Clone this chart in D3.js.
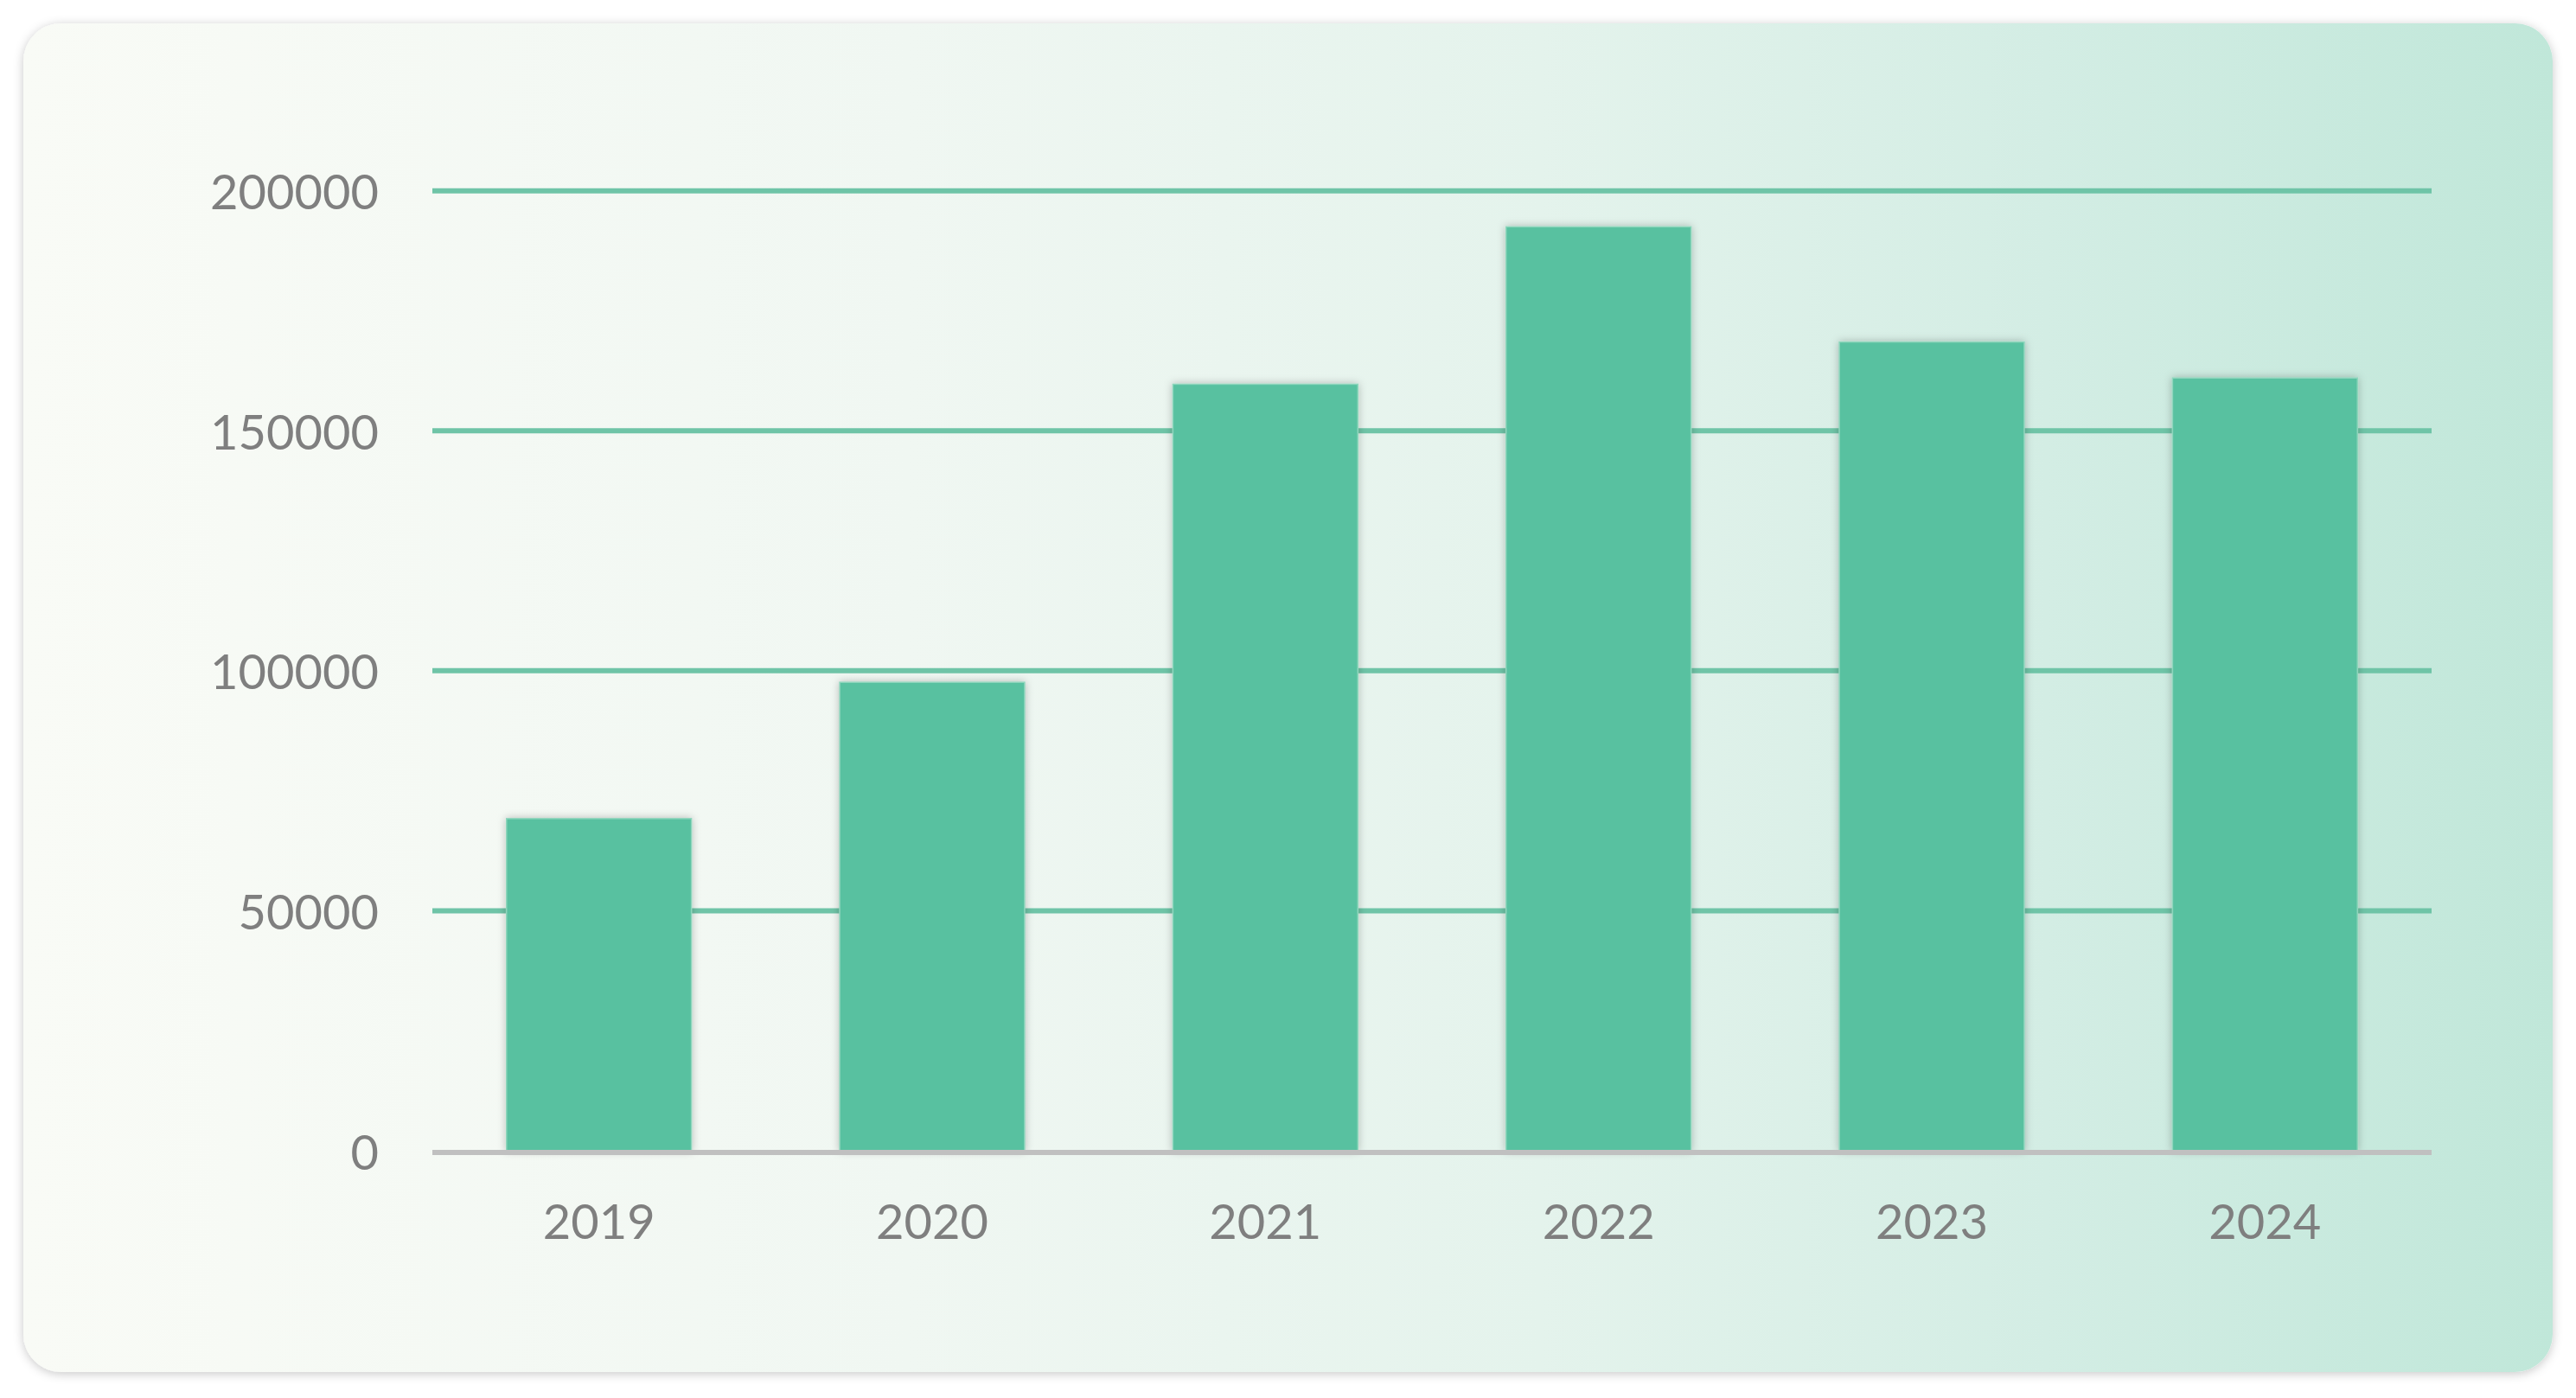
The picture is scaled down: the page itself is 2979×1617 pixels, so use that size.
<!DOCTYPE html>
<html>
<head>
<meta charset="utf-8">
<script src="https://cdn.jsdelivr.net/npm/d3@7"></script>
<style>
  html, body { margin: 0; padding: 0; background: #ffffff; }
  svg { display: block; }
</style>
</head>
<body>
<script>
const categories = ["2019", "2020", "2021", "2022", "2023", "2024"];
const values = [69200, 97600, 159700, 192500, 168500, 161000];
const yTicks = [0, 50000, 100000, 150000, 200000];

const W = 2979, H = 1617;
const svg = d3.select("body").append("svg").attr("width", W).attr("height", H);
const defs = svg.append("defs");

const grad = defs.append("linearGradient").attr("id", "bg").attr("x1", "0%").attr("x2", "100%").attr("y1", "0%").attr("y2", "0%");
[[0, "#f9fbf6"], [0.35, "#f0f7f2"], [0.6, "#e4f3ec"], [0.8, "#d3ede4"], [1, "#c0e7d9"]].forEach(([o, c]) =>
  grad.append("stop").attr("offset", o).attr("stop-color", c));

const cardShadow = defs.append("filter").attr("id", "cardShadow").attr("x", "-5%").attr("y", "-5%").attr("width", "110%").attr("height", "110%");
cardShadow.append("feDropShadow").attr("dx", 0).attr("dy", 2).attr("stdDeviation", 6).attr("flood-color", "#000").attr("flood-opacity", 0.22);

const barShadow = defs.append("filter").attr("id", "barShadow").attr("x", "-20%").attr("y", "-5%").attr("width", "140%").attr("height", "110%");
barShadow.append("feDropShadow").attr("dx", 0).attr("dy", 0).attr("stdDeviation", 5).attr("flood-color", "#000").attr("flood-opacity", 0.25);

// card
svg.append("rect")
  .attr("x", 27).attr("y", 27).attr("width", 2952 - 27).attr("height", 1587 - 27)
  .attr("rx", 44).attr("ry", 44)
  .attr("fill", "url(#bg)")
  .attr("filter", "url(#cardShadow)");

const x = d3.scaleBand().domain(categories).range([500, 2812]).paddingInner(0.445).paddingOuter(0.2225);
const y = d3.scaleLinear().domain([0, 200000]).range([1331, 220.7]);

const font = "Lato, 'Open Sans', sans-serif";

// gridlines
svg.append("g").selectAll("line").data(yTicks.filter(d => d > 0)).join("line")
  .attr("x1", 500).attr("x2", 2812)
  .attr("y1", d => y(d)).attr("y2", d => y(d))
  .attr("stroke", "#6fc4a7").attr("stroke-width", 6);

// y labels
svg.append("g").selectAll("text").data(yTicks).join("text")
  .attr("x", 438).attr("y", d => y(d))
  .attr("text-anchor", "end").attr("dominant-baseline", "central")
  .attr("font-family", font).attr("font-size", 56).attr("fill", "#7f7f7f")
  .text(d => d3.format("d")(d));

// bars
svg.append("g").selectAll("rect").data(values).join("rect")
  .attr("x", (d, i) => x(categories[i]))
  .attr("width", x.bandwidth())
  .attr("y", d => y(d))
  .attr("height", d => y(0) - y(d))
  .attr("fill", "#59c1a0")
  .attr("stroke", "#8ed5bc").attr("stroke-width", 1.5)
  .attr("filter", "url(#barShadow)");

// x axis line
svg.append("line")
  .attr("x1", 500).attr("x2", 2812).attr("y1", y(0) + 2).attr("y2", y(0) + 2)
  .attr("stroke", "#c0c0c0").attr("stroke-width", 6);

// x labels
svg.append("g").selectAll("text").data(categories).join("text")
  .attr("x", d => x(d) + x.bandwidth() / 2).attr("y", 1433)
  .attr("text-anchor", "middle")
  .attr("font-family", font).attr("font-size", 56).attr("fill", "#7f7f7f")
  .text(d => d);
</script>
</body>
</html>
